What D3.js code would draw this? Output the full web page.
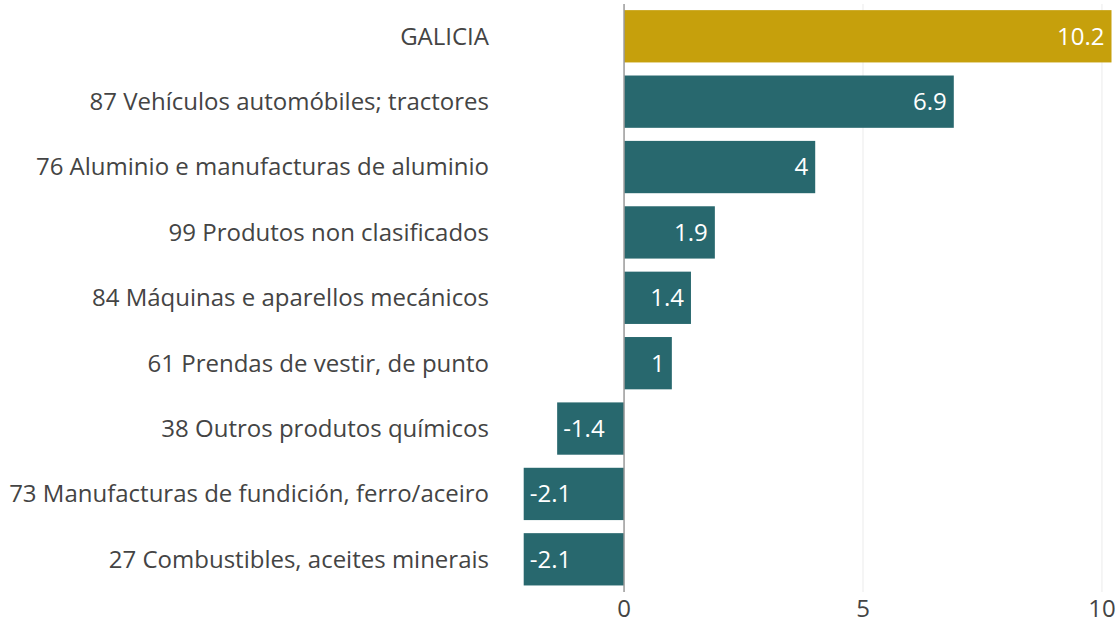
<!DOCTYPE html>
<html>
<head>
<meta charset="utf-8">
<script src="https://cdn.jsdelivr.net/npm/d3@7"></script>
<style>
  html, body { margin: 0; padding: 0; background: #fff; }
  svg { display: block; font-family: "Open Sans", sans-serif; }
  .cat-label { fill: #444; font-size: 24px; }
  .val-label { fill: #fff; font-size: 24px; }
  .tick-label { fill: #444; font-size: 24px; }
</style>
</head>
<body>
<svg id="chart" width="1119" height="621"></svg>
<script>
/* Horizontal bar chart: change by chapter, GALICIA on top */

const categories = [
  'GALICIA',
  '87 Vehículos automóbiles; tractores',
  '76 Aluminio e manufacturas de aluminio',
  '99 Produtos non clasificados',
  '84 Máquinas e aparellos mecánicos',
  '61 Prendas de vestir, de punto',
  '38 Outros produtos químicos',
  '73 Manufacturas de fundición, ferro/aceiro',
  '27 Combustibles, aceites minerais'
];
const values = [10.2, 6.9, 4, 1.9, 1.4, 1, -1.4, -2.1, -2.1];
const highlight = ['GALICIA'];
const ticks = [0, 5, 10];

const GOLD = '#c6a00c', TEAL = '#28686e';

const rows = categories.map((c, i) => ({ cat: c, v: values[i] }));

const svg = d3.select('#chart');

const x = d3.scaleLinear()
  .domain(d3.extent(values))
  .range([523.7, 1111.5]);

const y = d3.scaleBand()
  .domain(categories)
  .range([3.6, 592])
  .paddingInner(0.2)
  .paddingOuter(0.1);

// grid
svg.append('g').selectAll('line').data(ticks.filter(t => t !== 0))
  .enter().append('line')
  .attr('x1', d => x(d)).attr('x2', d => x(d))
  .attr('y1', 4).attr('y2', 592)
  .attr('stroke', '#ebebeb').attr('stroke-width', 1);

// bars
svg.append('g').selectAll('rect').data(rows)
  .enter().append('rect')
  .attr('x', d => Math.min(x(0), x(d.v)))
  .attr('width', d => Math.abs(x(d.v) - x(0)))
  .attr('y', d => y(d.cat))
  .attr('height', y.bandwidth())
  .attr('fill', d => highlight.includes(d.cat) ? GOLD : TEAL);

// zero line
svg.append('line')
  .attr('x1', x(0)).attr('x2', x(0))
  .attr('y1', 4).attr('y2', 592)
  .attr('stroke', '#999').attr('stroke-width', 1.5);

// value labels
svg.append('g').selectAll('text').data(rows)
  .enter().append('text')
  .attr('class', 'val-label')
  .attr('x', d => d.v >= 0 ? x(d.v) - 7 : x(d.v) + 6)
  .attr('y', d => y(d.cat) + y.bandwidth() / 2)
  .attr('dy', '0.35em')
  .attr('text-anchor', d => d.v >= 0 ? 'end' : 'start')
  .text(d => d.v);

// category labels
svg.append('g').selectAll('text').data(rows)
  .enter().append('text')
  .attr('class', 'cat-label')
  .attr('x', 489)
  .attr('y', d => y(d.cat) + y.bandwidth() / 2)
  .attr('dy', '0.35em')
  .attr('text-anchor', 'end')
  .text(d => d.cat);

// x tick labels
svg.append('g').selectAll('text').data(ticks)
  .enter().append('text')
  .attr('class', 'tick-label')
  .attr('x', d => x(d))
  .attr('y', 617)
  .attr('text-anchor', 'middle')
  .text(d => d);
</script>
</body>
</html>
